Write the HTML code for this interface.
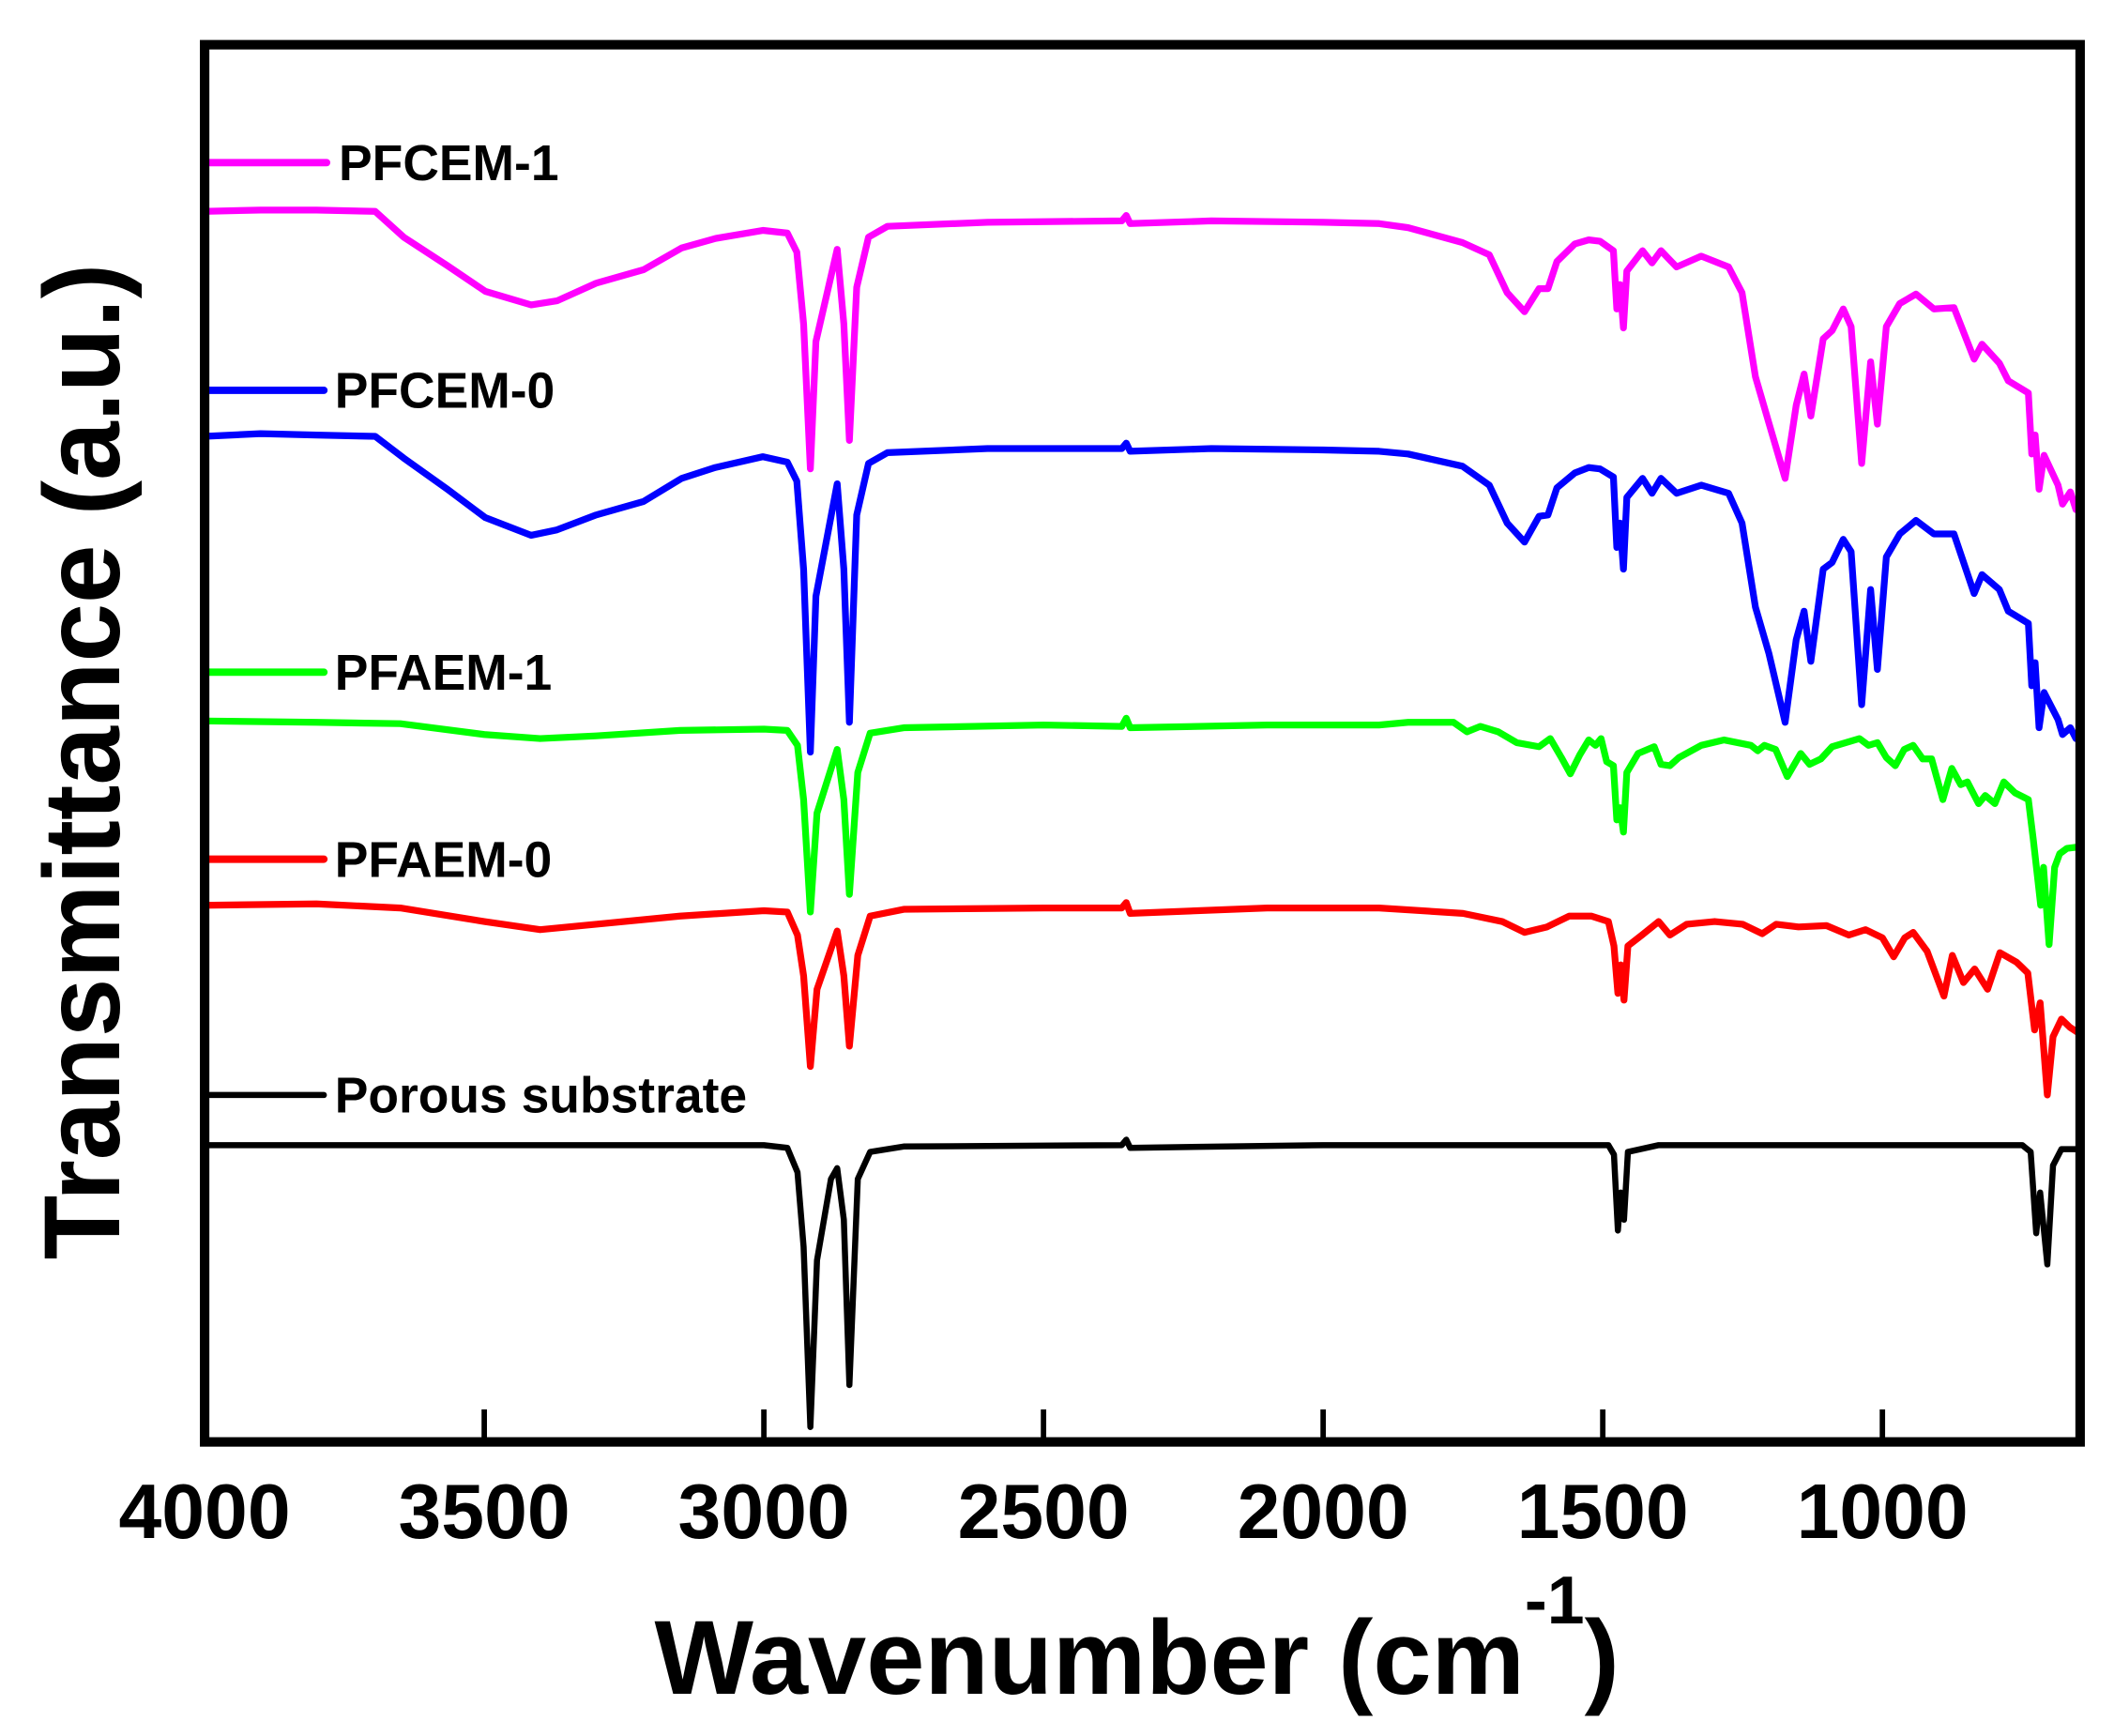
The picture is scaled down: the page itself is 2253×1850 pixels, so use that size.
<!DOCTYPE html>
<html><head><meta charset="utf-8"><style>
html,body{margin:0;padding:0;background:#fff;}
svg{display:block;}
text{font-family:"Liberation Sans",Arial,sans-serif;font-weight:bold;fill:#000;}
</style></head><body>
<svg id="chart" width="2253" height="1850" viewBox="0 0 1560 1281" preserveAspectRatio="none" xmlns="http://www.w3.org/2000/svg">
<defs><clipPath id="plotclip"><rect x="151" y="33" width="1384" height="1031"/></clipPath></defs>
<g id="series" clip-path="url(#plotclip)"></g>
<g id="legend">
  <line x1="155" y1="120" x2="241" y2="120" stroke="#ff00ff" stroke-width="5.5" stroke-linecap="round"/>
  <text x="250" y="133" font-size="37">PFCEM-1</text>
  <line x1="153" y1="288" x2="239" y2="288" stroke="#0000ff" stroke-width="5.5" stroke-linecap="round"/>
  <text x="247" y="301" font-size="37">PFCEM-0</text>
  <line x1="153" y1="496" x2="239" y2="496" stroke="#00ff00" stroke-width="5.5" stroke-linecap="round"/>
  <text x="247" y="509" font-size="37">PFAEM-1</text>
  <line x1="153" y1="634" x2="239" y2="634" stroke="#ff0000" stroke-width="5.5" stroke-linecap="round"/>
  <text x="247" y="647" font-size="37">PFAEM-0</text>
  <line x1="155" y1="808" x2="239" y2="808" stroke="#000" stroke-width="4.5" stroke-linecap="round"/>
  <text x="247" y="821" font-size="37">Porous substrate</text>
</g>
<rect x="151" y="33" width="1384" height="1031" fill="none" stroke="#000" stroke-width="7"/>
<g id="xaxis"></g>
<text transform="translate(88,562) rotate(-90)" text-anchor="middle" font-size="80" textLength="735" lengthAdjust="spacingAndGlyphs">Transmittance (a.u.)</text>
<text x="483" y="1250" font-size="78" textLength="712" lengthAdjust="spacingAndGlyphs">Wavenumber (cm<tspan font-size="50" dy="-52">-1</tspan><tspan dy="52">)</tspan></text>
</svg>
<script>
// x ticks
const xTicks = [4000, 3500, 3000, 2500, 2000, 1500, 1000];
const xTickLabels = ["4000", "3500", "3000", "2500", "2000", "1500", "1000"];

// series (wavenumber, transmittance a.u.)
const pfcem1Wn = [4000,3900,3800,3695,3644,3566,3498,3416,3370,3300,3215,3147,3087,3002,2958,2941,2929,2917,2907,2869,2857,2847,2834,2813,2779,2600,2360,2352,2345,2200,2000,1900,1848,1751,1703,1671,1640,1614,1598,1582,1550,1525,1505,1481,1475,1469,1463,1457,1429,1412,1396,1368,1324,1275,1251,1227,1203,1174,1154,1140,1128,1106,1090,1070,1056,1037,1021,1009,993,969,940,908,872,836,822,791,775,739,733,727,720,711,686,678,664,654];
const pfcem1T = [90.8,90.9,90.9,90.8,88.9,86.8,84.9,83.9,84.2,85.5,86.5,88.1,88.8,89.4,89.2,87.8,82.5,71.8,81.2,88.0,82.5,73.9,85.2,88.9,89.7,90.0,90.1,90.5,89.9,90.1,90.0,89.9,89.6,88.5,87.6,84.8,83.4,85.1,85.1,87.1,88.4,88.7,88.6,87.9,83.6,85.4,82.2,86.4,87.9,87.0,87.9,86.7,87.5,86.7,84.8,78.6,75.2,71.1,76.5,78.8,75.7,81.4,82.0,83.6,82.3,72.2,79.7,75.1,82.3,84.0,84.7,83.6,83.7,79.9,81.0,79.6,78.3,77.4,72.9,74.3,70.3,72.8,70.6,69.2,70.1,68.8];

const pfcem0Wn = [4000,3900,3800,3695,3644,3566,3498,3416,3370,3300,3215,3147,3087,3002,2958,2941,2929,2917,2907,2869,2857,2847,2834,2813,2779,2600,2360,2352,2345,2200,2000,1900,1848,1751,1703,1671,1640,1614,1598,1582,1550,1525,1505,1481,1475,1469,1463,1457,1429,1412,1396,1368,1324,1275,1251,1227,1203,1174,1154,1140,1128,1106,1090,1070,1056,1037,1021,1009,993,969,940,908,872,836,822,791,775,739,733,727,720,711,686,678,664,654];
const pfcem0T = [74.2,74.4,74.3,74.2,72.6,70.3,68.2,66.9,67.3,68.4,69.4,71.1,71.9,72.7,72.3,70.9,64.4,50.9,62.4,70.7,64.4,53.1,68.4,72.2,73.0,73.3,73.3,73.7,73.1,73.3,73.2,73.1,72.9,72.0,70.6,67.8,66.4,68.3,68.4,70.4,71.5,71.9,71.8,71.2,66.0,67.8,64.4,69.7,71.1,70.0,71.1,70.0,70.6,70.0,67.8,61.6,58.2,53.1,59.2,61.3,57.6,64.4,64.9,66.6,65.7,54.4,62.9,57.0,65.3,67.0,68.0,67.0,67.0,62.6,64.0,62.9,61.3,60.4,55.8,57.5,52.7,55.3,53.3,52.2,52.7,51.9];

const pfaem1Wn = [4000,3800,3650,3500,3400,3300,3150,3000,2958,2940,2929,2917,2905,2869,2857,2847,2832,2810,2750,2500,2360,2352,2345,2100,1900,1848,1767,1743,1719,1687,1654,1614,1594,1574,1558,1541,1525,1513,1503,1493,1481,1475,1469,1463,1457,1437,1408,1396,1380,1364,1324,1283,1235,1223,1211,1191,1170,1146,1130,1110,1090,1041,1025,1009,993,977,961,945,928,912,892,876,860,848,828,816,799,783,763,739,730,717,712,702,692,683,670,650];
const pfaem1T = [53.2,53.1,53.0,52.2,51.9,52.1,52.5,52.6,52.5,51.4,47.4,39.1,46.4,51.1,47.4,40.4,49.4,52.3,52.7,52.9,52.8,53.4,52.7,52.9,52.9,53.1,53.1,52.4,52.8,52.4,51.6,51.3,51.9,50.5,49.3,50.7,51.8,51.4,51.9,50.2,49.9,45.9,46.8,45.0,49.4,50.8,51.3,50.0,49.9,50.5,51.4,51.8,51.4,51.0,51.4,51.1,49.1,50.8,50.0,50.4,51.3,51.9,51.4,51.6,50.5,49.9,51.1,51.4,50.4,50.4,47.4,49.7,48.5,48.7,47.1,47.7,47.1,48.7,47.9,47.4,44.4,39.6,42.4,36.7,42.4,43.4,43.8,43.9];

const pfaem0Wn = [4000,3800,3650,3500,3400,3300,3150,3000,2958,2940,2929,2917,2905,2869,2857,2847,2832,2810,2750,2500,2360,2352,2345,2100,1900,1750,1680,1640,1600,1560,1520,1490,1480,1473,1468,1462,1455,1430,1400,1380,1350,1300,1250,1215,1190,1150,1100,1060,1030,1000,980,960,945,920,890,875,855,835,812,790,760,740,728,718,705,695,680,665,650];
const pfaem0T = [39.6,39.7,39.4,38.4,37.8,38.2,38.8,39.2,39.1,37.4,34.4,27.7,33.4,37.7,34.4,29.2,35.9,38.8,39.3,39.4,39.4,39.8,39.0,39.4,39.4,39.0,38.4,37.6,38.0,38.8,38.8,38.4,36.6,33.1,35.2,32.6,36.6,37.4,38.4,37.4,38.2,38.4,38.2,37.5,38.2,38.0,38.1,37.4,37.8,37.2,35.8,37.2,37.6,36.2,32.9,35.9,33.9,34.9,33.4,36.1,35.4,34.6,30.4,32.4,25.6,29.9,31.2,30.6,30.2];

const substrateWn = [4000,3500,3000,2958,2940,2929,2917,2905,2880,2869,2857,2847,2832,2810,2750,2360,2352,2345,2000,1490,1480,1473,1468,1462,1455,1400,750,735,725,718,705,695,680,650];
const substrateT = [21.9,21.9,21.9,21.7,19.9,14.4,1.1,13.4,19.4,20.2,16.4,4.2,19.4,21.4,21.8,21.9,22.3,21.7,21.9,21.9,21.2,15.6,18.4,16.4,21.4,21.9,21.9,21.4,15.4,18.4,13.1,20.4,21.6,21.6];

const NS = "http://www.w3.org/2000/svg";
function xScale(wn){ return 151 + (4000 - wn) * 0.4127; }
function yScale(t){ return 1064 - t * 10; }

const seriesDefs = [
  {name:"series-pfcem-1", wn:pfcem1Wn, t:pfcem1T, color:"#ff00ff", w:5},
  {name:"series-pfcem-0", wn:pfcem0Wn, t:pfcem0T, color:"#0000ff", w:5},
  {name:"series-pfaem-1", wn:pfaem1Wn, t:pfaem1T, color:"#00ff00", w:5},
  {name:"series-pfaem-0", wn:pfaem0Wn, t:pfaem0T, color:"#ff0000", w:5},
  {name:"series-porous-substrate", wn:substrateWn, t:substrateT, color:"#000000", w:4.5}
];
const sg = document.getElementById("series");
seriesDefs.forEach(s => {
  let d = "";
  for (let i = 0; i < s.wn.length; i++) {
    d += (i ? "L" : "M") + xScale(s.wn[i]).toFixed(1) + "," + yScale(s.t[i]).toFixed(1);
  }
  const p = document.createElementNS(NS, "path");
  p.setAttribute("d", d);
  p.setAttribute("fill", "none");
  p.setAttribute("stroke", s.color);
  p.setAttribute("stroke-width", s.w);
  p.setAttribute("stroke-linejoin", "round");
  p.setAttribute("stroke-linecap", "round");
  
  
  sg.appendChild(p);
});

const xg = document.getElementById("xaxis");
xTicks.forEach((v, i) => {
  const x = xScale(v);
  if (i > 0) {
    const tk = document.createElementNS(NS, "line");
    tk.setAttribute("x1", x); tk.setAttribute("x2", x);
    tk.setAttribute("y1", 1064); tk.setAttribute("y2", 1040);
    tk.setAttribute("stroke", "#000"); tk.setAttribute("stroke-width", 4);
    
    
    xg.appendChild(tk);
  }
  const t = document.createElementNS(NS, "text");
  t.setAttribute("x", x); t.setAttribute("y", 1135);
  t.setAttribute("text-anchor", "middle");
  t.setAttribute("font-size", "57");
  t.textContent = xTickLabels[i];
  
  
  xg.appendChild(t);
});
</script>
</body></html>
